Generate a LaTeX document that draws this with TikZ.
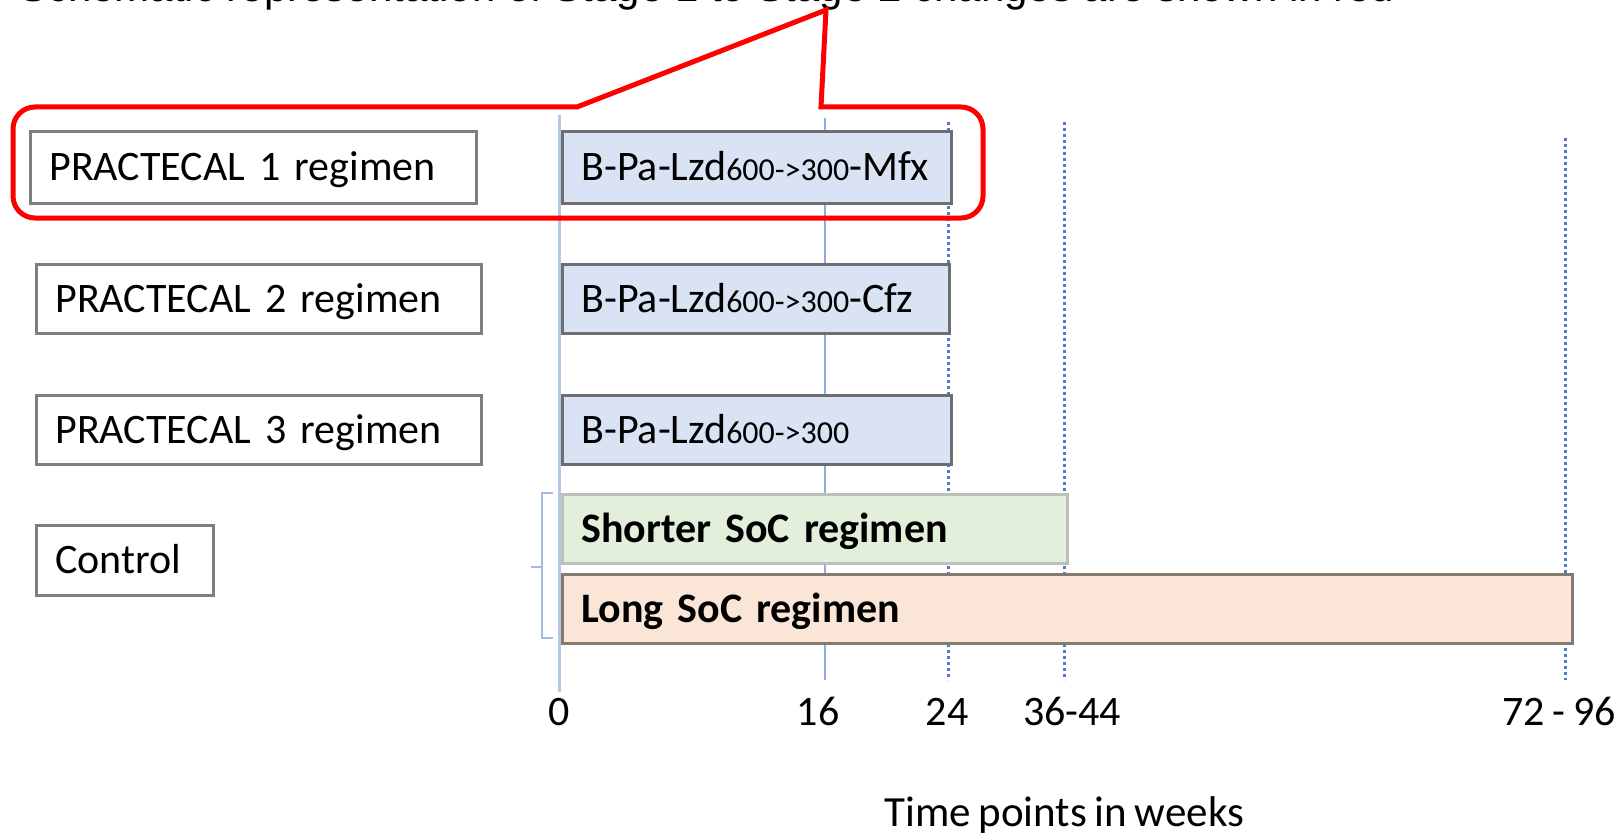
\documentclass[tikz,border=0pt]{standalone}
\usepackage{fontspec}
\setmainfont[WordSpace=0.8]{Carlito}
\newfontfamily\headfont{Liberation Sans}

% palette
\definecolor{boxgray}{HTML}{7F7F7F}
\definecolor{bargray}{HTML}{6E6E70}
\definecolor{barblue}{HTML}{DAE3F3}
\definecolor{greenfill}{HTML}{E2EFDA}
\definecolor{greenline}{HTML}{BDBFBA}
\definecolor{peachfill}{HTML}{FBE5D6}
\definecolor{peachline}{HTML}{857A70}
\definecolor{zeroline}{HTML}{B4C7E7}
\definecolor{weekline}{HTML}{8FAADC}
\definecolor{dotblue}{HTML}{4F7BCB}
\definecolor{bracecol}{HTML}{A3BBE3}
\definecolor{calloutred}{HTML}{FF0000}

% smaller dose annotation inside the regimen names
\newcommand\dosetxt[1]{{\fontsize{32}{32}\selectfont #1}}

\begin{document}
\begin{tikzpicture}[x=1pt,y=-1pt,
  every node/.style={inner sep=0pt},
  txt/.style={font=\fontsize{42}{50}\selectfont},
  boxbase/.style={txt, anchor=north west, inner xsep=19pt, inner ysep=0pt,
    align=left, text height=27pt, text depth=0pt, line width=2.8pt},
  armbox/.style={boxbase, draw=boxgray, fill=white},
  drugbar/.style={boxbase, draw=bargray, fill=barblue},
  shortbar/.style={boxbase, draw=greenline, fill=greenfill,
    font=\fontsize{42}{50}\selectfont\bfseries},
  longbar/.style={boxbase, draw=peachline, fill=peachfill,
    font=\fontsize{42}{50}\selectfont\bfseries},
  axlabel/.style={txt, anchor=base},
  zerotick/.style={line width=3pt, draw=zeroline},
  solidtick/.style={line width=2.6pt, draw=weekline},
  dottick/.style={line width=3pt, draw=dotblue, dash pattern=on 3pt off 3pt},
  bracket/.style={line width=2.6pt, draw=bracecol},
  callout/.style={line width=5pt, draw=calloutred, line join=miter}
]
\useasboundingbox (0,0) rectangle (1624,837);

% heading line running off the top edge
\node[anchor=base west, font=\headfont\fontsize{42}{50}\selectfont] (head) at (19,2)
  {Schematic representation of Stage 1 to Stage 2 changes are shown in red};

% time axis end points
\coordinate (w0a) at (559,115);   \coordinate (w0b) at (559,692);
\coordinate (w16a) at (825,118);  \coordinate (w16b) at (825,680);
\coordinate (w24a) at (948,122);  \coordinate (w24b) at (948,680);
\coordinate (w36a) at (1064,122); \coordinate (w36b) at (1064,680);
\coordinate (w72a) at (1565,138); \coordinate (w72b) at (1565,680);

\draw[zerotick] (w0a) -- (w0b);
\draw[solidtick] (w16a) -- (w16b);
\draw[dottick] (w24a) -- (w24b);
\draw[dottick] (w36a) -- (w36b);
\draw[dottick] (w72a) -- (w72b);

% arm labels
\node[armbox, minimum height=72pt, text width=408pt] (arm1) at (29,130) {PRACTECAL 1 regimen};
\node[armbox, minimum height=69pt, text width=407pt] (arm2) at (35,263) {PRACTECAL 2 regimen};
\node[armbox, minimum height=69pt, text width=407pt] (arm3) at (35,394) {PRACTECAL 3 regimen};
\node[armbox, minimum height=70pt, text width=139pt] (ctrl) at (35,524) {Control};

% regimen bars
\node[drugbar, minimum height=72pt, text width=351pt] (bar1) at (561,130)
  {B-Pa-Lzd\dosetxt{600->300}-Mfx};
\node[drugbar, minimum height=69pt, text width=349pt] (bar2) at (561,263)
  {B-Pa-Lzd\dosetxt{600->300}-Cfz};
\node[drugbar, minimum height=69pt, text width=351pt] (bar3) at (561,394)
  {B-Pa-Lzd\dosetxt{600->300}};
\node[shortbar, minimum height=69pt, text width=467pt] (soc1) at (561,493)
  {Shorter SoC regimen};
\node[longbar, minimum height=69pt, text width=972pt] (soc2) at (561,573)
  {Long SoC regimen};

% bracket grouping the control regimens
\coordinate (brt) at (542,493); \coordinate (brb) at (542,638);
\coordinate (brm) at (542,567);
\draw[bracket] ([xshift=11pt]brt) -- (brt) -- (brb) -- ([xshift=11pt]brb);
\draw[bracket] (brm) -- ([xshift=-11pt]brm);

% week labels
\node[axlabel] (l0) at (559,725) {0};
\node[axlabel] (l16) at (818,725) {16};
\node[axlabel] (l24) at (947,725) {24};
\node[axlabel] (l36) at (1072,725) {36-44};
\node[axlabel] (l72) at (1559,725) {72 - 96};
\node[anchor=base west, font=\fontsize{43}{50}\selectfont] (axtitle) at (884,826) {Time points in weeks};

% red callout around the first arm
\coordinate (tip) at (826,10);
\draw[callout] (13,165) -- (13,129)
  .. controls (13,116.85) and (22.85,107) .. (35,107)
  -- (577,107) -- (tip) -- (821,107) -- (961,107)
  .. controls (973.15,107) and (983,116.85) .. (983,129)
  -- (983,196)
  .. controls (983,208.15) and (973.15,218) .. (961,218)
  -- (35,218)
  .. controls (22.85,218) and (13,208.15) .. (13,196)
  -- cycle;
\end{tikzpicture}
\end{document}
